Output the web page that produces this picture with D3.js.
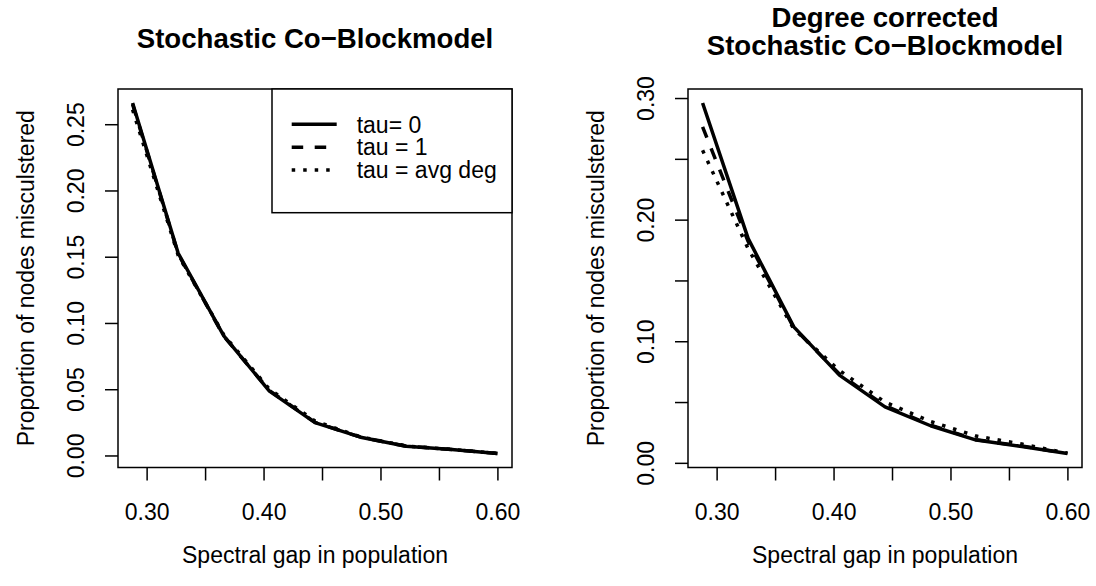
<!DOCTYPE html>
<html>
<head>
<meta charset="utf-8">
<script src="https://cdn.jsdelivr.net/npm/d3@7"></script>
<style>
  body { margin: 0; background: #fff; }
  svg text { font-family: "Liberation Sans", Arial, Helvetica, sans-serif; fill: #000; }
</style>
</head>
<body>
<div id="chart"></div>
<script>
// spectral gap values (x) shared by both panels
var gap = [0.288, 0.327, 0.366, 0.405, 0.444, 0.483, 0.522, 0.561, 0.600];

// Stochastic Co-Blockmodel
var sbmTau0   = [0.266, 0.1526, 0.0902, 0.0486, 0.0248, 0.0138, 0.0070, 0.0045, 0.0015];
var sbmTau1   = [0.265, 0.1520, 0.0900, 0.0490, 0.0250, 0.0138, 0.0070, 0.0045, 0.0015];
var sbmTauAvg = [0.261, 0.1510, 0.0910, 0.0500, 0.0260, 0.0140, 0.0072, 0.0045, 0.0015];

// Degree corrected Stochastic Co-Blockmodel
var dcTau0   = [0.2959, 0.1844, 0.1118, 0.0721, 0.0460, 0.0305, 0.0187, 0.0135, 0.0077];
var dcTau1   = [0.2762, 0.1820, 0.1110, 0.0730, 0.0470, 0.0310, 0.0190, 0.0138, 0.0078];
var dcTauAvg = [0.2570, 0.1760, 0.1100, 0.0760, 0.0500, 0.0340, 0.0220, 0.0155, 0.0080];

var xTicks = [0.30, 0.35, 0.40, 0.45, 0.50, 0.55, 0.60];
var xTickLabels = [0.30, 0.40, 0.50, 0.60];
var yTicksLeft = [0.00, 0.05, 0.10, 0.15, 0.20, 0.25];
var yTickLabelsLeft = [0.00, 0.05, 0.10, 0.15, 0.20, 0.25];
var yTicksRight = [0.00, 0.05, 0.10, 0.15, 0.20, 0.25, 0.30];
var yTickLabelsRight = [0.00, 0.10, 0.20, 0.30];

var legendLabels = ["tau= 0", "tau = 1", "tau = avg deg"];
var xLabel = "Spectral gap in population";
var yLabel = "Proportion of nodes misculstered";

var dashes = [null, "11.5,11.5", "3.5,8"];

var W = 1096, H = 586;
var svg = d3.select("#chart").append("svg")
    .attr("width", W)
    .attr("height", H);
svg.append("rect").attr("width", W).attr("height", H).attr("fill", "#fff");

function rExtent(arrs) {
    // R style: data range padded by 4% each side
    var lo = d3.min(arrs, function (a) { return d3.min(a); }),
        hi = d3.max(arrs, function (a) { return d3.max(a); }),
        pad = (hi - lo) * 0.04;
    return [lo - pad, hi + pad];
}

function drawPanel(opt) {
    var left = opt.left, top = 89, width = 394, height = 378.5;

    var x = d3.scaleLinear().domain(rExtent([gap])).range([0, width]),
        y = d3.scaleLinear().domain(rExtent(opt.series)).range([height, 0]);

    var g = svg.append("g").attr("transform", "translate(" + left + "," + top + ")");

    var xAxis = d3.axisBottom(x).tickValues(xTicks).tickSize(13).tickSizeOuter(0)
        .tickFormat(function (d) {
            return xTickLabels.some(function (v) { return Math.abs(v - d) < 1e-9; }) ? d3.format(".2f")(d) : "";
        });
    var yAxis = d3.axisLeft(y).tickValues(opt.yTicks).tickSize(13).tickSizeOuter(0)
        .tickFormat(function (d) {
            return opt.yLabels.some(function (v) { return Math.abs(v - d) < 1e-9; }) ? d3.format(".2f")(d) : "";
        });

    var gx = g.append("g").attr("transform", "translate(0," + height + ")").call(xAxis);
    gx.select(".domain").remove();
    gx.selectAll("line").attr("stroke", "#000").attr("stroke-width", 1.5);
    gx.selectAll("text").attr("y", 52.5).attr("dy", 0).attr("font-size", 23).attr("fill", "#000");

    var gy = g.append("g").call(yAxis);
    gy.select(".domain").remove();
    gy.selectAll("line").attr("stroke", "#000").attr("stroke-width", 1.5);
    gy.selectAll("text")
        .attr("transform", "rotate(-90)")
        .attr("x", 0).attr("y", -34).attr("dy", 0)
        .attr("text-anchor", "middle")
        .attr("font-size", 23).attr("fill", "#000");

    var line = d3.line()
        .x(function (d, i) { return x(gap[i]); })
        .y(function (d) { return y(d); });

    // draw dotted first so solid sits on top
    [2, 1, 0].forEach(function (k) {
        g.append("path")
            .datum(opt.series[k])
            .attr("fill", "none")
            .attr("stroke", "#000")
            .attr("stroke-width", 3.5)
            .attr("stroke-linejoin", "round")
            .attr("stroke-dasharray", dashes[k])
            .attr("d", line);
    });

    g.append("rect")
        .attr("width", width).attr("height", height)
        .attr("fill", "none").attr("stroke", "#000").attr("stroke-width", 1.5);

    // titles
    var title = svg.append("text")
        .attr("text-anchor", "middle")
        .attr("font-size", 27.6)
        .attr("font-weight", "bold");
    opt.title.forEach(function (t, i) {
        title.append("tspan")
            .attr("x", left + width / 2)
            .attr("y", opt.titleY[i])
            .text(t);
    });

    svg.append("text")
        .attr("x", left + width / 2).attr("y", 563)
        .attr("text-anchor", "middle").attr("font-size", 23)
        .text(xLabel);

    svg.append("text")
        .attr("transform", "translate(" + (left - 84) + "," + (top + height / 2) + ") rotate(-90)")
        .attr("text-anchor", "middle").attr("font-size", 23)
        .text(yLabel);

    if (opt.legend) {
        var lg = g.append("g").attr("transform", "translate(" + (width - 240) + ",0)");
        lg.append("rect").attr("width", 240).attr("height", 123.7)
            .attr("fill", "#fff").attr("stroke", "#000").attr("stroke-width", 1.5);
        legendLabels.forEach(function (lab, k) {
            var ly = 35.3 + k * 22.85;
            lg.append("line")
                .attr("x1", 19.7).attr("x2", 64.7).attr("y1", ly).attr("y2", ly)
                .attr("stroke", "#000").attr("stroke-width", 3.5)
                .attr("stroke-dasharray", dashes[k]);
            lg.append("text")
                .attr("x", 84.7).attr("y", ly + 8.2)
                .attr("font-size", 23)
                .text(lab);
        });
    }
}

drawPanel({
    left: 118,
    series: [sbmTau0, sbmTau1, sbmTauAvg],
    yTicks: yTicksLeft, yLabels: yTickLabelsLeft,
    title: ["Stochastic Co\u2212Blockmodel"], titleY: [48],
    legend: true
});

drawPanel({
    left: 688,
    series: [dcTau0, dcTau1, dcTauAvg],
    yTicks: yTicksRight, yLabels: yTickLabelsRight,
    title: ["Degree corrected", "Stochastic Co\u2212Blockmodel"], titleY: [27, 55],
    legend: false
});
</script>
</body>
</html>
